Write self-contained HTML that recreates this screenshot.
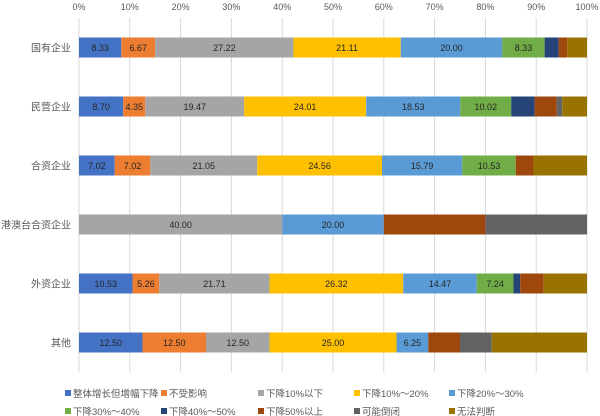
<!DOCTYPE html>
<html><head><meta charset="utf-8">
<style>
body{margin:0;background:#fff;}
svg{display:block;font-family:"Liberation Sans","Noto Sans CJK SC",sans-serif;}
</style></head>
<body>
<svg id="chart" width="600" height="416"></svg>
<script>
const categories=["国有企业","民营企业","合资企业","港澳台合资企业","外资企业","其他"];
const seriesNames=["整体增长但增幅下降","不受影响","下降10%以下","下降10%～20%","下降20%～30%","下降30%～40%","下降40%～50%","下降50%以上","可能倒闭","无法判断"];
const s0=[8.33,8.70,7.02,0,10.53,12.50];
const s1=[6.67,4.35,7.02,0,5.26,12.50];
const s2=[27.22,19.47,21.05,40.00,21.71,12.50];
const s3=[21.11,24.01,24.56,0,26.32,25.00];
const s4=[20.00,18.53,15.79,20.00,14.47,6.25];
const s5=[8.33,10.02,10.53,0,7.24,0];
const s6=[2.78,4.62,0,0,1.32,0];
const s7=[1.67,4.35,3.51,20.00,4.61,6.25];
const s8=[0,1.09,0,20.00,0,6.25];
const s9=[3.89,4.86,10.52,0,8.54,18.75];
const tickLabels=["0%","10%","20%","30%","40%","50%","60%","70%","80%","90%","100%"];
const series=[s0,s1,s2,s3,s4,s5,s6,s7,s8,s9];
const colors=["#4472C4","#ED7D31","#A5A5A5","#FFC000","#5B9BD5","#70AD47","#264478","#9E480E","#636363","#997300"];
const NS="http://www.w3.org/2000/svg";
const svg=document.getElementById('chart');
const x0=79,x1=587,yTop=18,yBot=372;
const xs=v=>x0+(x1-x0)*v/100;
const rowH=(yBot-yTop)/categories.length;
const yc=i=>yTop+rowH*(i+0.5);
const barH=20;
function mk(t,a){const e=document.createElementNS(NS,t);for(const k in a)e.setAttribute(k,a[k]);svg.appendChild(e);return e;}
tickLabels.forEach((t,i)=>{
  const x=xs(i*10);
  const g=mk('line',{x1:x,x2:x,y1:yTop,y2:yBot,stroke:'#d9d9d9','stroke-width':1});
  
  
  const tx=mk('text',{x:x,y:10,'font-size':9,fill:'#595959','text-anchor':'middle'});
  tx.textContent=t;
  
  
});
categories.forEach((c,i)=>{
  const t=mk('text',{x:71,y:yc(i)+4,'font-size':10,fill:'#595959','text-anchor':'end'});
  t.textContent=c;
  
  
  let acc=0;
  series.forEach((s,k)=>{
    const v=s[i];
    if(v<=0)return;
    const r=mk('rect',{x:xs(acc),y:yc(i)-barH/2,width:xs(acc+v)-xs(acc),height:barH,fill:colors[k]});
    
    
    if(k<6&&v>=4){
      const l=mk('text',{x:(xs(acc)+xs(acc+v))/2,y:yc(i)+3.5,'font-size':9,fill:'#262626','text-anchor':'middle'});
      l.textContent=v.toFixed(2);
      
      
    }
    acc+=v;
  });
});
const lx=[68,164,261,357,452],ly=[393,411];
seriesNames.forEach((n,k)=>{
  const x=lx[k%5],y=ly[Math.floor(k/5)];
  const r=mk('rect',{x:x-3,y:y-3,width:6,height:6,fill:colors[k]});
  
  
  const t=mk('text',{x:x+5,y:y+4,'font-size':9.5,fill:'#595959'});
  t.textContent=n;
  
  
});
</script>
</body></html>
